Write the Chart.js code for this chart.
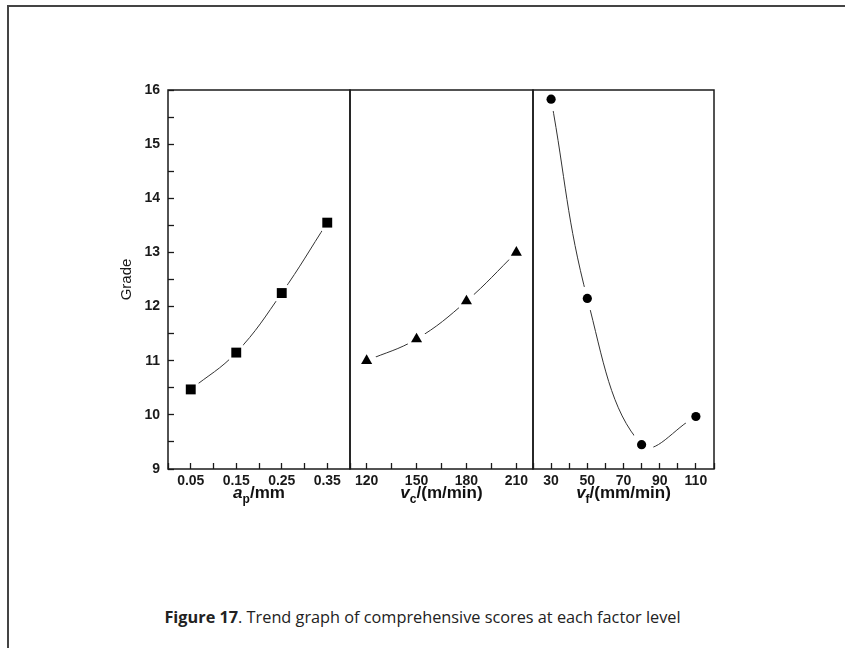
<!DOCTYPE html>
<html lang="en">
<head>
    <meta charset="UTF-8">
    <title>Trend graph of comprehensive scores</title>
    <script src="https://cdn.jsdelivr.net/npm/chart.js"></script>
    <style>
        body {
            margin: 0;
            background: #fff;
            width: 845px;
            height: 648px;
            overflow: hidden;
            position: relative;
            font-family: "Liberation Sans", Arial, sans-serif;
        }
        .frame {
            position: absolute;
            left: 7px;
            top: 5px;
            width: 900px;
            height: 700px;
            border-left: 2px solid #444;
            border-top: 2px solid #444;
        }
        canvas.panel {
            position: absolute;
            top: 80px;
        }
        .axis-title {
            position: absolute;
            top: 484px;
            text-align: center;
            font-weight: bold;
            font-size: 17px;
            color: #111;
            line-height: 1;
        }
        .axis-title sub {
            font-size: 12px;
            vertical-align: -5px;
        }
        .caption {
            position: absolute;
            left: 0;
            width: 845px;
            top: 606px;
            text-align: center;
            font-family: "Open Sans", "Noto Sans", sans-serif;
            font-size: 16.3px;
            color: #222;
        }
    </style>
</head>
<body>
    <div class="frame"></div>

    <canvas id="apChart" class="panel" width="270" height="419" style="left:90px"></canvas>
    <canvas id="vcChart" class="panel" width="203" height="419" style="left:340px"></canvas>
    <!-- this one gets 12px of layout padding on every side, so it sits 2px higher -->
    <canvas id="vfChart" class="panel" width="205" height="421" style="left:521px;top:78px"></canvas>

    <div class="axis-title" style="left:168px;width:182px"><i>a</i><sub>p</sub>/mm</div>
    <div class="axis-title" style="left:350px;width:183px"><i>v</i><sub>c</sub>/(m/min)</div>
    <div class="axis-title" style="left:533px;width:181px"><i>v</i><sub>f</sub>/(mm/min)</div>

    <div class="caption"><b>Figure 17</b>. Trend graph of comprehensive scores at each factor level</div>

    <script>
        // factor levels and grade at each level
        const apLevels = [0.05, 0.15, 0.25, 0.35];
        const apGrade = [10.47, 11.15, 12.25, 13.55];

        const vcLevels = [120, 150, 180, 210];
        const vcGrade = [11.0, 11.4, 12.1, 13.0];

        const vfLevels = [30, 50, 80, 110];
        const vfGrade = [15.83, 12.15, 9.45, 9.97];

        // labelled ticks on each axis
        const apTickLabels = [0.05, 0.15, 0.25, 0.35];
        const vcTickLabels = [120, 150, 180, 210];
        const vfTickLabels = [30, 50, 70, 90, 110];
        const gradeTickLabels = [9, 10, 11, 12, 13, 14, 15, 16];

        const ink = '#1a1a1a';
        const tickFont = { family: '"Liberation Sans", Arial, sans-serif', size: 14, weight: 'bold' };

        // outline of the plot area, drawn over the data
        const framePlugin = {
            id: 'frame',
            afterDatasetsDraw(chart) {
                const { ctx, chartArea: a } = chart;
                ctx.save();
                ctx.strokeStyle = ink;
                ctx.lineWidth = 1.5;
                ctx.strokeRect(a.left, a.top, a.right - a.left, a.bottom - a.top);
                ctx.restore();
            }
        };

        // tick values every `step`, lined up on `anchor`, inside [min, max]
        function stepTicks(min, max, step, anchor) {
            const out = [];
            let v = anchor - Math.floor((anchor - min) / step + 1e-9) * step;
            for (; v <= max + 1e-9; v += step) out.push({ value: +v.toFixed(6) });
            return out;
        }

        function makePanel(id, xs, ys, cfg) {
            const pts = xs.map((x, i) => ({ x: x, y: ys[i] }));
            const ctx = document.getElementById(id).getContext('2d');
            return new Chart(ctx, {
                type: 'scatter',
                data: {
                    datasets: [
                        {
                            data: pts,
                            showLine: false,
                            pointStyle: cfg.marker,
                            pointRadius: cfg.radius,
                            pointBackgroundColor: '#000',
                            pointBorderWidth: 0,
                            order: 0
                        },
                        {
                            // white gap around each marker
                            data: pts,
                            showLine: false,
                            pointStyle: 'circle',
                            pointRadius: cfg.gap,
                            pointBackgroundColor: '#fff',
                            pointBorderWidth: 0,
                            order: 1
                        },
                        {
                            data: pts,
                            showLine: true,
                            tension: 0.4,
                            borderColor: '#333',
                            borderWidth: 1,
                            pointRadius: 0,
                            order: 2
                        }
                    ]
                },
                options: {
                    responsive: false,
                    animation: false,
                    events: [],
                    layout: { padding: cfg.padding },
                    plugins: { legend: { display: false }, tooltip: { enabled: false } },
                    scales: {
                        x: {
                            type: 'linear',
                            min: cfg.xMin,
                            max: cfg.xMax,
                            afterBuildTicks: s => { s.ticks = stepTicks(cfg.xMin, cfg.xMax, cfg.xStep, cfg.xLabels[0]); },
                            afterFit: s => {
                                s.height = 30;
                                s.paddingLeft = 0;
                                s.paddingRight = 0;
                            },
                            border: { display: false },
                            grid: { drawOnChartArea: false, drawTicks: true, tickLength: -6, tickColor: ink, tickWidth: 1.3 },
                            ticks: {
                                padding: 10,
                                maxRotation: 0,
                                autoSkip: false,
                                color: ink,
                                font: tickFont,
                                callback: v => cfg.xLabels.some(l => Math.abs(l - v) < 1e-6) ? cfg.xFormat(v) : ''
                            }
                        },
                        y: {
                            display: cfg.showY,
                            min: 9,
                            max: 16,
                            afterBuildTicks: s => { s.ticks = stepTicks(9, 16, 0.5, 9); },
                            afterFit: s => {
                                s.width = cfg.showY ? 78 : 0;
                                s.paddingTop = 0;
                                s.paddingBottom = 0;
                            },
                            border: { display: false },
                            grid: { drawOnChartArea: false, drawTicks: true, tickLength: -6, tickColor: ink, tickWidth: 1.3 },
                            title: {
                                display: true,
                                text: 'Grade',
                                color: ink,
                                padding: { top: 28, bottom: 0 },
                                font: { family: '"Liberation Sans", Arial, sans-serif', size: 15 }
                            },
                            ticks: {
                                padding: 14,
                                color: ink,
                                font: tickFont,
                                callback: v => gradeTickLabels.includes(v) ? String(v) : ''
                            }
                        }
                    }
                },
                plugins: [framePlugin]
            });
        }

        makePanel('apChart', apLevels, apGrade, {
            marker: 'rect', radius: 7, gap: 10,
            xMin: 0, xMax: 0.4, xStep: 0.05, xLabels: apTickLabels, xFormat: v => v.toFixed(2),
            showY: true,
            padding: { left: 0, right: 1, top: 10, bottom: 0 }
        });

        makePanel('vcChart', vcLevels, vcGrade, {
            marker: 'triangle', radius: 6.4, gap: 10,
            xMin: 110, xMax: 220, xStep: 15, xLabels: vcTickLabels, xFormat: v => String(v),
            showY: false,
            padding: { left: 10, right: 7, top: 10, bottom: 0 }
        });

        makePanel('vfChart', vfLevels, vfGrade, {
            marker: 'circle', radius: 4.6, gap: 12,
            xMin: 20, xMax: 120, xStep: 10, xLabels: vfTickLabels, xFormat: v => String(v),
            showY: false,
            padding: { left: 8, right: 10, top: 10, bottom: 0 }
        });
    </script>
</body>
</html>
